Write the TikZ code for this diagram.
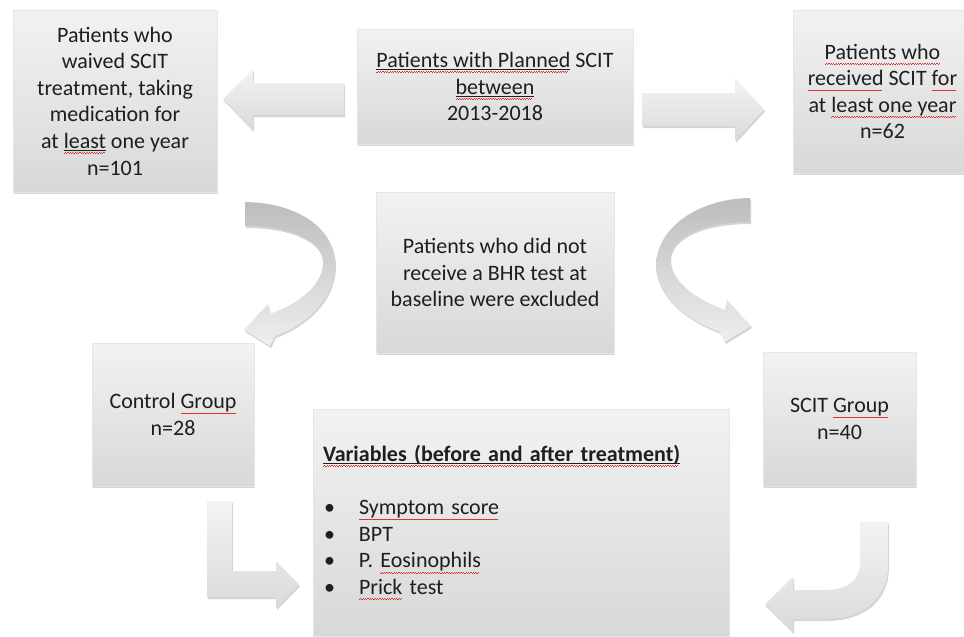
\documentclass[tikz,border=0pt]{standalone}
\usepackage{fontspec}
\setmainfont{Carlito}
\usetikzlibrary{shadows}
\definecolor{boxtop}{HTML}{F2F2F2}
\definecolor{boxbot}{HTML}{D8D8D8}
\definecolor{arrtop}{HTML}{F3F3F3}
\definecolor{arrbot}{HTML}{DADADA}
\definecolor{curtop}{HTML}{BDBDBD}
\definecolor{curbot}{HTML}{EEEEEE}
\definecolor{txt}{HTML}{1E1E1E}
\definecolor{spell}{HTML}{E03030}
\newcommand\wavemark{\hbox{\rule[-5.4pt]{1.2pt}{0.7pt}\rule[-4.7pt]{1.2pt}{0.7pt}}}
\newcommand\sq[1]{\begingroup\setbox0\hbox{#1}%
  \rlap{\textcolor{spell}{\hbox to\wd0{\leaders\wavemark\hfill}}}\box0\endgroup}
\newcommand\usq[1]{\begingroup\setbox0\hbox{#1}%
  \rlap{\textcolor{spell}{\hbox to\wd0{\leaders\wavemark\hfill}}}%
  \rlap{\textcolor{txt}{\rule[-2.6pt]{\wd0}{0.9pt}}}\box0\endgroup}
\begin{document}
\begin{tikzpicture}[x=1pt,y=-1pt,
  softshadow/.style={drop shadow={shadow xshift=1pt,shadow yshift=-2pt,opacity=0.28,fill=black!60}},
  box/.style={draw=black!10, line width=0.4pt, top color=boxtop, bottom color=boxbot,
    softshadow, align=center, inner sep=0pt, text=txt,
    font=\fontsize{22}{26.6}\selectfont},
  flatarrow/.style={top color=arrtop, bottom color=arrbot, softshadow},
  curvearrow/.style={top color=curtop, bottom color=curbot, softshadow}]
\useasboundingbox (0,0) rectangle (964,637);
\fill[white] (0,0) rectangle (964,637);

% boxes
\node[box, minimum width=204pt, minimum height=182pt] (waived) at (115,101)
  {Patients who\\ waived SCIT\\ treatment, taking\\ medication for\\ at \usq{least} one year\\ n=101};
\node[box, minimum width=276pt, minimum height=115pt] (planned) at (495,86.5)
  {\usq{Patients with Planned} SCIT\\ \usq{between}\\ 2013-2018};
\node[box, minimum width=179pt, minimum height=163pt] (received) at (882.5,91.5)
  {\sq{Patients who}\\ \sq{received} SCIT \sq{for}\\ at \sq{least one year}\\ n=62};
\node[box, minimum width=238pt, minimum height=161pt] (excluded) at (495,272.5)
  {Patients who did not\\ receive a BHR test at\\ baseline were excluded};
\node[box, minimum width=162pt, minimum height=143pt] (control) at (173,414.5)
  {Control \sq{Group}\\ n=28};
\node[box, minimum width=153pt, minimum height=134pt] (scit) at (839.5,419)
  {SCIT \sq{Group}\\ n=40};
\node[box, minimum width=416pt, minimum height=227pt, text width=396pt, align=left] (vars) at (521,522.5)
  {\textbf{\usq{Variables (before and after treatment)}}\\[26.6pt]
   \makebox[36pt][l]{\hspace{1pt}•}\sq{Symptom score}\\
   \makebox[36pt][l]{\hspace{1pt}•}BPT\\
   \makebox[36pt][l]{\hspace{1pt}•}P. \sq{Eosinophils}\\
   \makebox[36pt][l]{\hspace{1pt}•}\sq{Prick} test};

% straight block arrows
\path[flatarrow] (344,83) -- (253,83) -- (253,69) -- (223,99) -- (253,130) -- (253,115) -- (344,115) -- cycle;
\path[flatarrow] (642,93) -- (735,93) -- (735,78) -- (764,109.5) -- (735,141) -- (735,126) -- (642,126) -- cycle;

% curved arrows
\path[curvearrow] (245,202) .. controls (300,203) and (336,230) .. (335,266)
  .. controls (334,300) and (305,325) .. (275,336) -- (270,346) -- (244,330) -- (268,304) -- (270,314)
  .. controls (300,303) and (323,285) .. (323,262)
  .. controls (322,240) and (290,226) .. (245,226) -- cycle;
\path[curvearrow] (750,198) .. controls (695,199) and (656,230) .. (656,266)
  .. controls (656,298) and (690,321) .. (720,332) -- (725,342) -- (751,326) -- (727,300) -- (725,310)
  .. controls (695,299) and (670,281) .. (670,258)
  .. controls (671,236) and (705,222) .. (750,222) -- cycle;

% bent arrows
\path[flatarrow] (207,501) -- (232,501) -- (232,571) -- (276,571) -- (276,561) -- (299,584.5) -- (276,608) -- (276,597) -- (207,597) -- cycle;
\path[flatarrow] (860,522) -- (888,522) -- (888,565) .. controls (888,600) and (862,619) .. (825,619)
  -- (793,619) -- (793,632) -- (765,604.5) -- (793,577) -- (793,590) -- (825,590)
  .. controls (848,590) and (860,580) .. (860,562) -- cycle;
\end{tikzpicture}
\end{document}
